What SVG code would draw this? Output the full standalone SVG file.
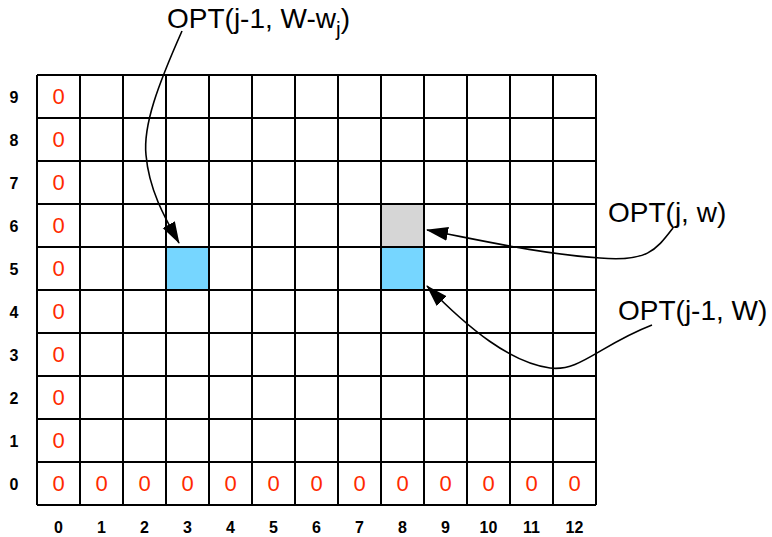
<svg xmlns="http://www.w3.org/2000/svg" width="772" height="537" viewBox="0 0 772 537">
<style>
.grid{stroke:#000;stroke-width:2;fill:none}
.z{font-family:"Liberation Sans",Arial,sans-serif;font-size:22px;fill:#ff2a00;text-anchor:middle}
.ax{font-family:"Liberation Sans",Arial,sans-serif;font-size:16px;font-weight:bold;fill:#000;text-anchor:middle}
.lbl{font-family:"Liberation Sans",Arial,sans-serif;font-size:28px;fill:#000}
.con{stroke:#000;stroke-width:1.6;fill:none;marker-end:url(#ah)}
</style>
<defs>
<marker id="ah" markerUnits="userSpaceOnUse" markerWidth="24" markerHeight="15" refX="21" refY="7" orient="auto">
<path d="M0,0 L22,7 L0,14 Z" fill="#000"/>
</marker>
</defs>
<rect width="772" height="537" fill="#fff"/>
<g id="cells">
<rect x="166" y="247" width="43" height="43" fill="#76d6ff"/>
<rect x="381" y="247" width="43" height="43" fill="#76d6ff"/>
<rect x="381" y="204" width="43" height="43" fill="#d6d6d6"/>
</g>
<g id="grid" class="grid">
<path d="M37,75V505M80,75V505M123,75V505M166,75V505M209,75V505M252,75V505M295,75V505M338,75V505M381,75V505M424,75V505M467,75V505M510,75V505M553,75V505M596,75V505"/>
<path d="M37,75H596M37,118H596M37,161H596M37,204H596M37,247H596M37,290H596M37,333H596M37,376H596M37,419H596M37,462H596M37,505H596"/>
</g>
<g id="zeros">
<text class="z" x="58.5" y="104">0</text>
<text class="z" x="58.5" y="147">0</text>
<text class="z" x="58.5" y="190">0</text>
<text class="z" x="58.5" y="233">0</text>
<text class="z" x="58.5" y="276">0</text>
<text class="z" x="58.5" y="319">0</text>
<text class="z" x="58.5" y="362">0</text>
<text class="z" x="58.5" y="405">0</text>
<text class="z" x="58.5" y="448">0</text>
<text class="z" x="58.5" y="491">0</text>
<text class="z" x="101.5" y="491">0</text>
<text class="z" x="144.5" y="491">0</text>
<text class="z" x="187.5" y="491">0</text>
<text class="z" x="230.5" y="491">0</text>
<text class="z" x="273.5" y="491">0</text>
<text class="z" x="316.5" y="491">0</text>
<text class="z" x="359.5" y="491">0</text>
<text class="z" x="402.5" y="491">0</text>
<text class="z" x="445.5" y="491">0</text>
<text class="z" x="488.5" y="491">0</text>
<text class="z" x="531.5" y="491">0</text>
<text class="z" x="574.5" y="491">0</text>
</g>
<g id="row-labels">
<text class="ax" x="14" y="103">9</text>
<text class="ax" x="14" y="146">8</text>
<text class="ax" x="14" y="189">7</text>
<text class="ax" x="14" y="232">6</text>
<text class="ax" x="14" y="275">5</text>
<text class="ax" x="14" y="318">4</text>
<text class="ax" x="14" y="361">3</text>
<text class="ax" x="14" y="404">2</text>
<text class="ax" x="14" y="447">1</text>
<text class="ax" x="14" y="490">0</text>
</g>
<g id="col-labels">
<text class="ax" x="58.5" y="533">0</text>
<text class="ax" x="101.5" y="533">1</text>
<text class="ax" x="144.5" y="533">2</text>
<text class="ax" x="187.5" y="533">3</text>
<text class="ax" x="230.5" y="533">4</text>
<text class="ax" x="273.5" y="533">5</text>
<text class="ax" x="316.5" y="533">6</text>
<text class="ax" x="359.5" y="533">7</text>
<text class="ax" x="402.5" y="533">8</text>
<text class="ax" x="445.5" y="533">9</text>
<text class="ax" x="488.5" y="533">10</text>
<text class="ax" x="531.5" y="533">11</text>
<text class="ax" x="574.5" y="533">12</text>
</g>
<g id="label-top">
<text class="lbl" x="167" y="28">OPT(j-1, W-w<tspan font-size="21" dy="8">j</tspan><tspan dy="-8">)</tspan></text>
</g>
<g id="label-jw">
<text class="lbl" x="608" y="222">OPT(j, w)</text>
</g>
<g id="label-j1W">
<text class="lbl" x="618" y="320">OPT(j-1, W)</text>
</g>
<g id="connectors">
<path class="con" d="M182,31 C158,85 143,125 146,155 C149,190 165,218 179,243"/>
<path class="con" d="M673,228 C656,250 648,262 600,258 C540,254 480,240 427,230"/>
<path class="con" d="M652,325 C600,345 580,372 550,368 C510,362 470,330 427,286"/>
</g>
</svg>
